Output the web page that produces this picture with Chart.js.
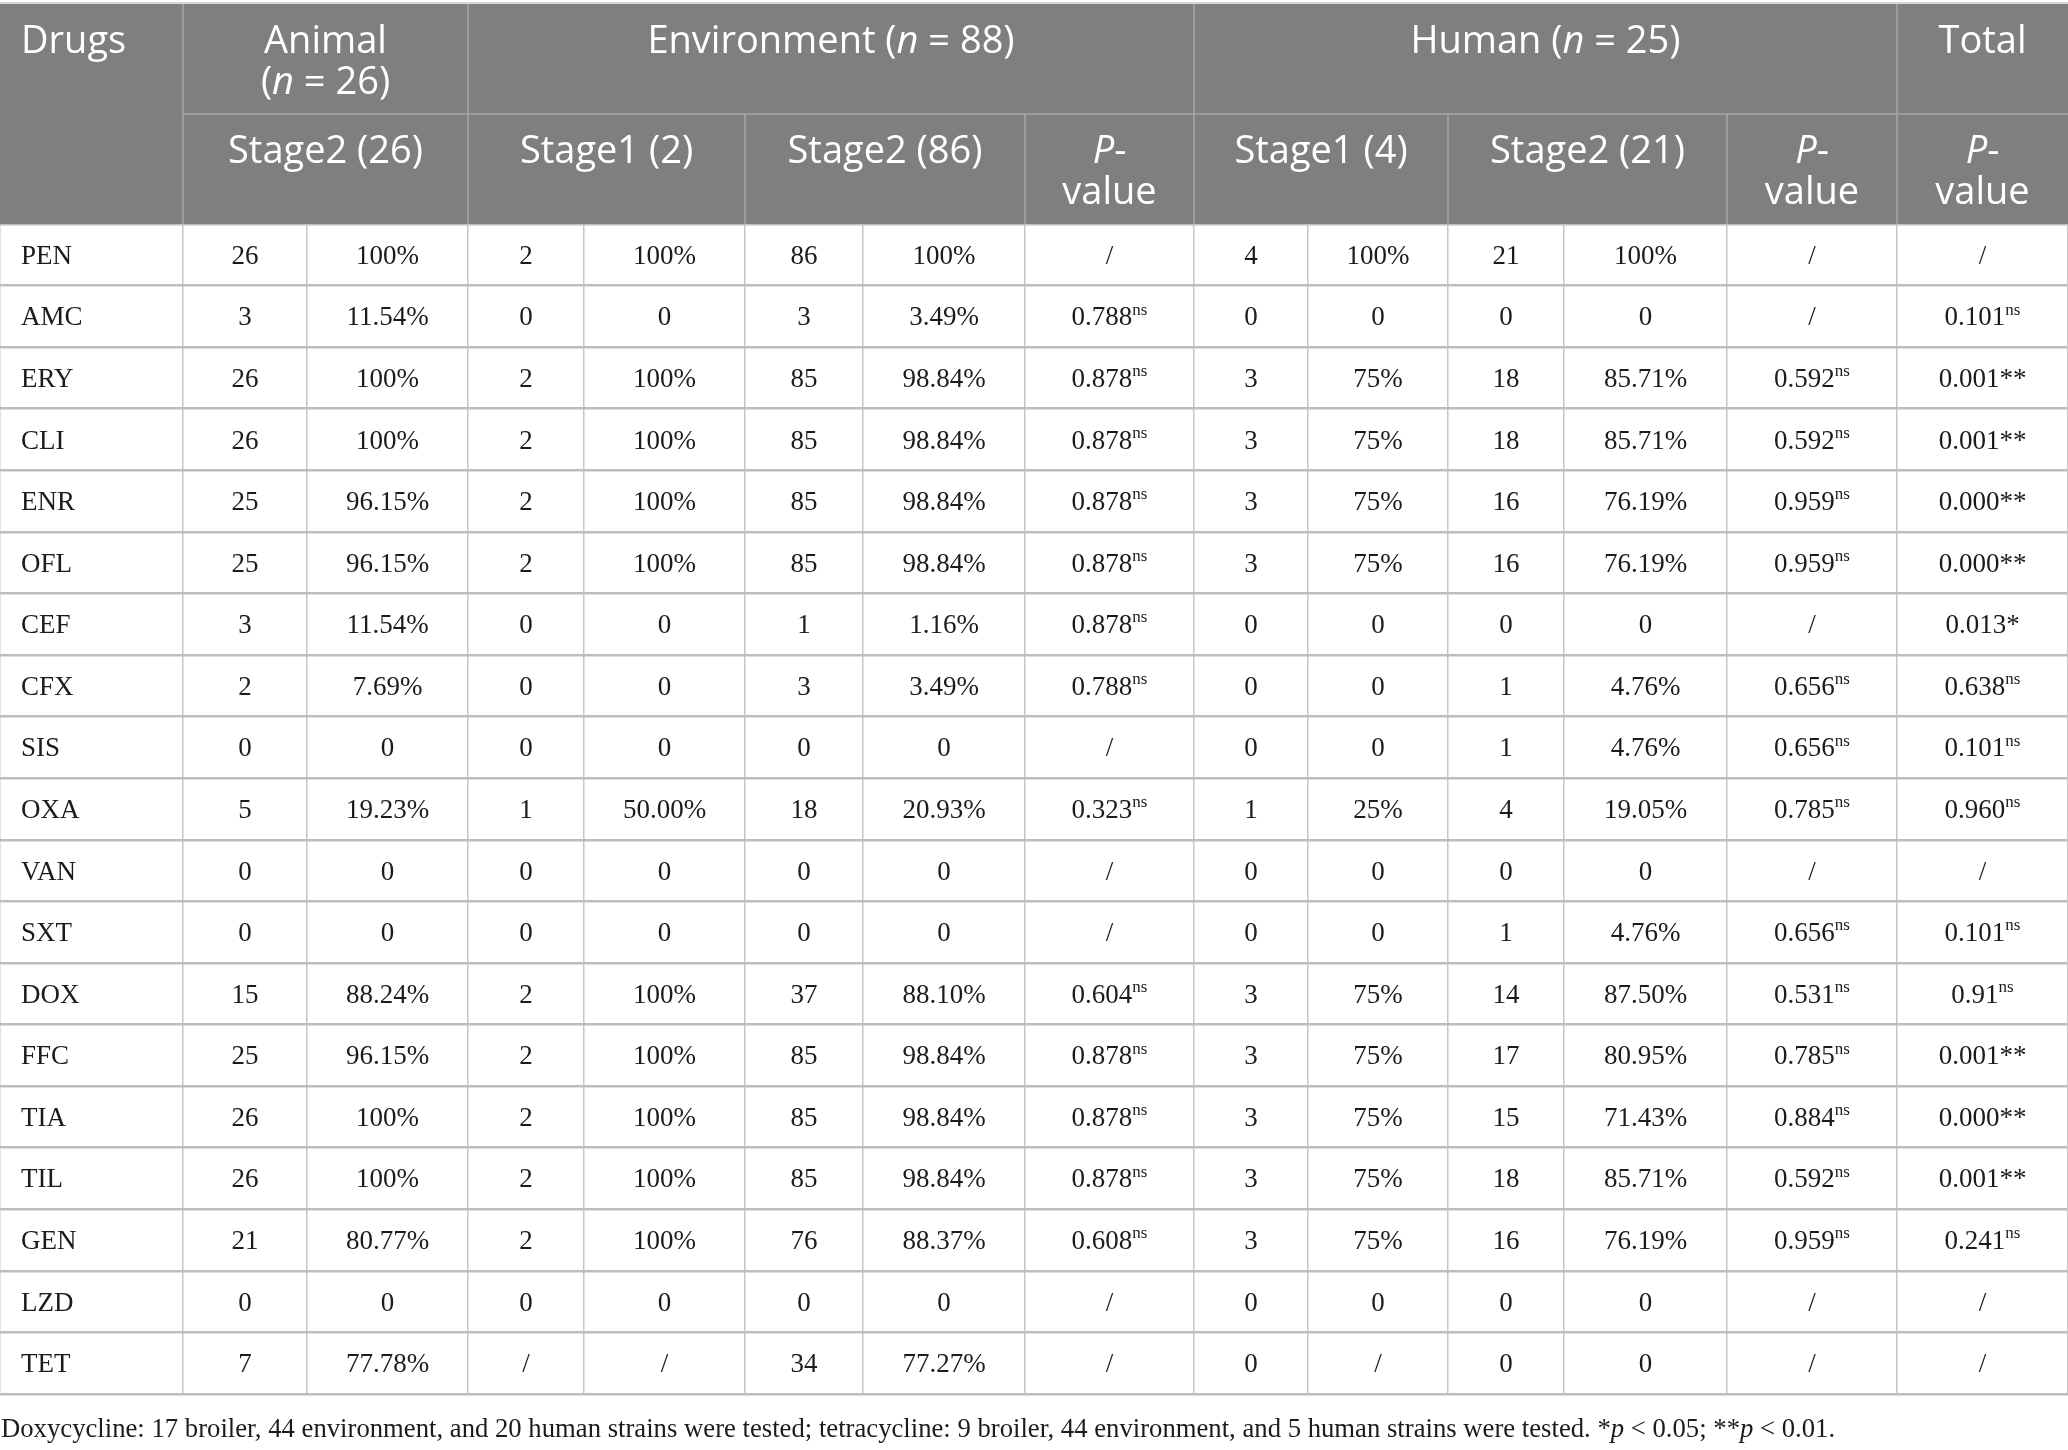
<!DOCTYPE html>
<html>
<head>
<meta charset="utf-8">
<script src="https://cdn.jsdelivr.net/npm/chart.js@4.4.1/dist/chart.umd.min.js"></script>
<style>
  html, body { margin: 0; padding: 0; background: #fff; }
  #wrap { width: 2068px; height: 1450px; position: relative; }
</style>
</head>
<body>
<div id="wrap"><canvas id="table"></canvas></div>
<script>
// rows
const drugs = ['PEN', 'AMC', 'ERY', 'CLI', 'ENR', 'OFL', 'CEF', 'CFX', 'SIS', 'OXA',
  'VAN', 'SXT', 'DOX', 'FFC', 'TIA', 'TIL', 'GEN', 'LZD', 'TET']

// Animal (n = 26)
const animalS2N = ['26', '3', '26', '26', '25', '25', '3', '2', '0', '5', '0', '0', '15', '25', '26', '26', '21', '0', '7']
const animalS2Pct = ['100%', '11.54%', '100%', '100%', '96.15%', '96.15%', '11.54%', '7.69%', '0', '19.23%',
  '0', '0', '88.24%', '96.15%', '100%', '100%', '80.77%', '0', '77.78%']

// Environment (n = 88)
const envS1N = ['2', '0', '2', '2', '2', '2', '0', '0', '0', '1', '0', '0', '2', '2', '2', '2', '2', '0', '/']
const envS1Pct = ['100%', '0', '100%', '100%', '100%', '100%', '0', '0', '0', '50.00%',
  '0', '0', '100%', '100%', '100%', '100%', '100%', '0', '/']
const envS2N = ['86', '3', '85', '85', '85', '85', '1', '3', '0', '18', '0', '0', '37', '85', '85', '85', '76', '0', '34']
const envS2Pct = ['100%', '3.49%', '98.84%', '98.84%', '98.84%', '98.84%', '1.16%', '3.49%', '0', '20.93%',
  '0', '0', '88.10%', '98.84%', '98.84%', '98.84%', '88.37%', '0', '77.27%']
const envP = ['/', '0.788ns', '0.878ns', '0.878ns', '0.878ns', '0.878ns', '0.878ns', '0.788ns', '/', '0.323ns',
  '/', '/', '0.604ns', '0.878ns', '0.878ns', '0.878ns', '0.608ns', '/', '/']

// Human (n = 25)
const humS1N = ['4', '0', '3', '3', '3', '3', '0', '0', '0', '1', '0', '0', '3', '3', '3', '3', '3', '0', '0']
const humS1Pct = ['100%', '0', '75%', '75%', '75%', '75%', '0', '0', '0', '25%',
  '0', '0', '75%', '75%', '75%', '75%', '75%', '0', '/']
const humS2N = ['21', '0', '18', '18', '16', '16', '0', '1', '1', '4', '0', '1', '14', '17', '15', '18', '16', '0', '0']
const humS2Pct = ['100%', '0', '85.71%', '85.71%', '76.19%', '76.19%', '0', '4.76%', '4.76%', '19.05%',
  '0', '4.76%', '87.50%', '80.95%', '71.43%', '85.71%', '76.19%', '0', '0']
const humP = ['/', '/', '0.592ns', '0.592ns', '0.959ns', '0.959ns', '/', '0.656ns', '0.656ns', '0.785ns',
  '/', '0.656ns', '0.531ns', '0.785ns', '0.884ns', '0.592ns', '0.959ns', '/', '/']

// Total
const totalP = ['/', '0.101ns', '0.001**', '0.001**', '0.000**', '0.000**', '0.013*', '0.638ns', '0.101ns', '0.960ns',
  '/', '0.101ns', '0.91ns', '0.001**', '0.000**', '0.001**', '0.241ns', '/', '/']

const columns = [animalS2N, animalS2Pct, envS1N, envS1Pct, envS2N, envS2Pct, envP,
  humS1N, humS1Pct, humS2N, humS2Pct, humP, totalP]

const footnote = [
  {t: 'Doxycycline: 17 broiler, 44 environment, and 20 human strains were tested; tetracycline: 9 broiler, 44 environment, and 5 human strains were tested. *'},
  {t: 'p', i: true}, {t: ' < 0.05; **'}, {t: 'p', i: true}, {t: ' < 0.01.'}
]

// layout (pixels)
const W = 2068, H = 1450
const colEdges = [0, 183, 307, 468, 584, 745, 863, 1025, 1194, 1308, 1448, 1564, 1727, 1897, 2068]
const headTop = 4, headMid = 114, headBottom = 224, tableBottom = 1394
const headBg = '#7f807e', headLine = '#a6a7a5', gridCol = '#c6c6c6', textCol = '#1b1b1b'
const SERIF = '"Liberation Serif", "Times New Roman", serif'
const SANS = '"Open Sans", "Noto Sans", sans-serif'

function font(size, italic, fam) {
  return (italic ? 'italic ' : '') + size + 'px ' + fam
}

// segments: {t, i (italic), s (superscript)}
function drawRich(ctx, segs, x, base, size, fam, align) {
  const supSize = Math.round(size * 0.62)
  let total = 0
  segs.forEach(s => {
    ctx.font = font(s.s ? supSize : size, s.i, fam)
    s.w = ctx.measureText(s.t).width
    total += s.w
  })
  let cx = align === 'center' ? x - total / 2 : x
  ctx.textAlign = 'left'
  ctx.textBaseline = 'alphabetic'
  segs.forEach(s => {
    ctx.font = font(s.s ? supSize : size, s.i, fam)
    ctx.fillText(s.t, cx, s.s ? base - size * 0.4 : base)
    cx += s.w
  })
}

function cellSegs(v) {
  if (v.endsWith('ns')) return [{t: v.slice(0, -2)}, {t: 'ns', s: true}]
  return [{t: v}]
}

const headerCells = [
  // [x0, x1, lines, firstBaseline, align]
  [0, 183, [[{t: 'Drugs'}]], 53, 'left'],
  [183, 468, [[{t: 'Animal'}], [{t: '('}, {t: 'n', i: true}, {t: ' = 26)'}]], 53, 'center'],
  [468, 1194, [[{t: 'Environment ('}, {t: 'n', i: true}, {t: ' = 88)'}]], 53, 'center'],
  [1194, 1897, [[{t: 'Human ('}, {t: 'n', i: true}, {t: ' = 25)'}]], 53, 'center'],
  [1897, 2068, [[{t: 'Total'}]], 53, 'center'],
  [183, 468, [[{t: 'Stage2 (26)'}]], 163, 'center'],
  [468, 745, [[{t: 'Stage1 (2)'}]], 163, 'center'],
  [745, 1025, [[{t: 'Stage2 (86)'}]], 163, 'center'],
  [1025, 1194, [[{t: 'P', i: true}, {t: '-'}], [{t: 'value'}]], 163, 'center'],
  [1194, 1448, [[{t: 'Stage1 (4)'}]], 163, 'center'],
  [1448, 1727, [[{t: 'Stage2 (21)'}]], 163, 'center'],
  [1727, 1897, [[{t: 'P', i: true}, {t: '-'}], [{t: 'value'}]], 163, 'center'],
  [1897, 2068, [[{t: 'P', i: true}, {t: '-'}], [{t: 'value'}]], 163, 'center']
]

const tablePlugin = {
  id: 'tablePlugin',
  afterDatasetsDraw(chart) {
    const ctx = chart.ctx
    const xs = chart.scales.x
    const ys = chart.scales.y
    ctx.save()
    ctx.fillStyle = textCol
    // drug names
    drugs.forEach((d, i) => {
      drawRich(ctx, [{t: d}], xs.getPixelForValue(21), ys.getPixelForValue(i) + 9, 27, SERIF, 'left')
    })
    // cells, placed at each dataset point
    chart.data.datasets.forEach((ds, c) => {
      chart.getDatasetMeta(c).data.forEach((pt, i) => {
        drawRich(ctx, cellSegs(columns[c][i]), pt.x, pt.y + 9, 27, SERIF, 'center')
      })
    })

    // header block
    const px = v => xs.getPixelForValue(v)
    ctx.fillStyle = headBg
    ctx.fillRect(px(0), headTop, px(W) - px(0), headBottom - headTop)
    ctx.strokeStyle = headLine
    ctx.lineWidth = 1.5
    const line = (x0, y0, x1, y1) => {
      ctx.beginPath(); ctx.moveTo(x0, y0); ctx.lineTo(x1, y1); ctx.stroke()
    }
    line(px(183), headMid, px(W), headMid)
    ;[183, 468, 1194, 1897].forEach(v => line(px(v), headTop, px(v), headBottom))
    ;[745, 1025, 1448, 1727].forEach(v => line(px(v), headMid, px(v), headBottom))
    ctx.strokeStyle = '#c9c9c9'
    line(0, headTop - 1, W, headTop - 1)

    ctx.fillStyle = '#ffffff'
    headerCells.forEach(([x0, x1, lines, base, align]) => {
      const x = align === 'left' ? px(x0) + 21 : (px(x0) + px(x1)) / 2
      lines.forEach((segs, k) => drawRich(ctx, segs.map(s => ({...s})), x, base + k * 41, 38, SANS, align))
    })

    // footnote
    ctx.fillStyle = textCol
    drawRich(ctx, footnote.map(s => ({...s})), 1, 1437, 26.7, SERIF, 'left')
    ctx.restore()
  }
}

const centers = colEdges.slice(1, -1).map((e, k) => (e + colEdges[k + 2]) / 2)

new Chart(document.getElementById('table'), {
  type: 'scatter',
  data: {
    datasets: columns.map((col, c) => ({
      data: col.map((v, i) => ({x: centers[c], y: drugs[i]})),
      pointRadius: 0,
      pointHoverRadius: 0
    }))
  },
  options: {
    responsive: true,
    maintainAspectRatio: false,
    devicePixelRatio: 1,
    animation: false,
    events: [],
    layout: {padding: {top: headBottom, bottom: H - tableBottom, left: 0, right: 0}},
    plugins: {legend: {display: false}, tooltip: {enabled: false}},
    scales: {
      x: {
        type: 'linear', min: 0, max: W,
        afterBuildTicks: s => { s.ticks = colEdges.map(v => ({value: v})) },
        ticks: {display: false},
        border: {display: false},
        grid: {color: gridCol, lineWidth: 1.5, drawTicks: false}
      },
      y: {
        type: 'category', labels: drugs, offset: true,
        ticks: {display: false},
        border: {display: false},
        grid: {color: '#bdbdbd', lineWidth: 2.5, offset: true, drawTicks: false}
      }
    }
  },
  plugins: [tablePlugin]
})
</script>
</body>
</html>
